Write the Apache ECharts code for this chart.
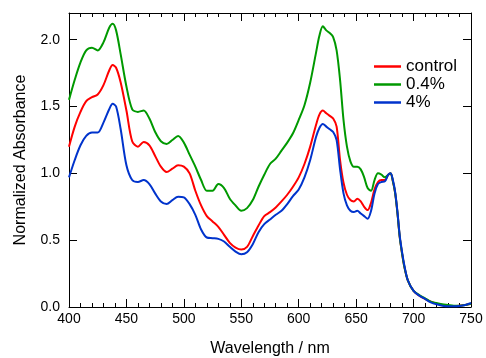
<!DOCTYPE html>
<html>
<head>
<meta charset="utf-8">
<script src="https://cdn.jsdelivr.net/npm/echarts@6/dist/echarts.min.js"></script>
<style>html,body{margin:0;padding:0;background:#fff}#c{width:486px;height:358px}</style>
</head>
<body>
<div id="c"></div>
<script>
const wavelengths = [400,405,410,415,420,425,430,435,438,441,445,
450,455,460,465,470,475,480,485,490,495,500,505,510,515,520,525,530,535,540,545,550,555,560,565,570,575,580,585,590,595,600,605,610,615,
618,621,624,627,630,633,636,639,642,645,648,651,654,657,660,663,666,669,672,675,678,
680,682,684,686,688,690,692,
695,700,705,710,715,720,725,730,735,740,745,750];

const control = [1.20,1.35,1.46,1.54,1.57,1.59,1.66,1.77,1.81,1.79,1.68,
1.47,1.24,1.20,1.235,1.21,1.13,1.05,1.01,1.035,1.06,1.05,1.00,0.87,0.76,0.68,0.64,0.60,0.54,0.48,0.445,0.43,0.45,0.53,0.61,0.68,0.71,0.745,0.79,0.84,0.90,0.97,1.07,1.20,1.36,
1.44,1.47,1.45,1.43,1.41,1.35,1.10,0.93,0.84,0.80,0.79,0.81,0.79,0.75,0.725,0.78,0.88,0.935,0.95,0.95,0.99,
1.00,0.94,0.85,0.70,0.52,0.40,0.30,
0.20,0.12,0.085,0.06,0.04,0.025,0.015,0.01,0.008,0.01,0.015,0.025];

const pct04 = [1.55,1.70,1.83,1.92,1.94,1.92,1.98,2.09,2.12,2.07,1.89,
1.65,1.48,1.46,1.47,1.41,1.31,1.24,1.22,1.25,1.28,1.23,1.14,1.05,0.95,0.87,0.87,0.92,0.89,0.81,0.76,0.72,0.74,0.80,0.90,0.99,1.07,1.11,1.17,1.23,1.30,1.40,1.51,1.68,1.90,
2.03,2.10,2.07,2.05,2.02,1.92,1.70,1.40,1.20,1.09,1.05,1.05,1.03,0.97,0.89,0.87,0.95,1.00,0.99,0.97,0.99,
1.00,0.94,0.85,0.70,0.52,0.40,0.30,
0.20,0.12,0.09,0.065,0.04,0.03,0.02,0.015,0.01,0.01,0.015,0.025];

const pct4 = [0.97,1.10,1.21,1.28,1.305,1.305,1.38,1.48,1.52,1.50,1.33,
1.06,0.95,0.935,0.95,0.92,0.85,0.79,0.77,0.80,0.825,0.82,0.77,0.69,0.58,0.52,0.515,0.51,0.49,0.45,0.415,0.395,0.41,0.47,0.56,0.62,0.655,0.69,0.72,0.77,0.83,0.88,0.97,1.10,1.27,
1.34,1.37,1.35,1.33,1.31,1.25,1.03,0.85,0.76,0.72,0.71,0.72,0.70,0.68,0.66,0.72,0.85,0.92,0.935,0.94,0.99,
1.00,0.95,0.86,0.71,0.53,0.41,0.31,
0.20,0.12,0.085,0.06,0.035,0.02,0.01,0.005,0.005,0.008,0.015,0.03];

const seriesNames = ['control','0.4%','4%'];
const seriesColors = ['#ff0000','#009900','#0033cc'];
const seriesValues = [control, pct04, pct4];

const FONT = '"Liberation Sans", Arial, Helvetica, sans-serif';
const chart = echarts.init(document.getElementById('c'), null, {renderer:'canvas'});

function xAx(pos, showLabels){
  return {
    type:'value', position:pos, min:400, max:750, interval:50,
    name: showLabels ? 'Wavelength / nm' : '',
    nameLocation:'middle', nameGap:34,
    nameTextStyle:{fontFamily:FONT, fontSize:16, color:'#000'},
    axisLine:{show:true, onZero:false, lineStyle:{color:'#000', width:1}},
    axisTick:{show:true, inside:true, length:8, lineStyle:{color:'#000'}},
    minorTick:{show:true, splitNumber:5, length:4, lineStyle:{color:'#000'}},
    splitLine:{show:false}, minorSplitLine:{show:false},
    axisLabel:{show:showLabels, fontFamily:FONT, fontSize:14, color:'#000', margin:5}
  };
}
function yAx(pos, showLabels){
  return {
    type:'value', position:pos, min:0, max:2.2, interval:0.5,
    name: showLabels ? 'Normalized Absorbance' : '',
    nameLocation:'middle', nameGap:40,
    nameTextStyle:{fontFamily:FONT, fontSize:16, color:'#000'},
    axisLine:{show:true, onZero:false, lineStyle:{color:'#000', width:1}},
    axisTick:{show:true, inside:true, length:8, lineStyle:{color:'#000'}},
    splitLine:{show:false},
    axisLabel:{show:showLabels, showMaxLabel:false, fontFamily:FONT, fontSize:14, color:'#000', margin:9,
      formatter:v=>v.toFixed(1)}
  };
}

chart.setOption({
  animation:false,
  backgroundColor:'#fff',
  grid:{left:69, right:15, top:13, bottom:51, outerBoundsMode:'none', containLabel:false},
  legend:{
    orient:'vertical', left:369, top:53, icon:'rect', itemWidth:27, itemHeight:2.5, itemGap:1,
    textStyle:{fontFamily:FONT, fontSize:17, color:'#000', lineHeight:17},
    data:seriesNames
  },
  xAxis:[xAx('bottom', true), xAx('top', false)],
  yAxis:[yAx('left', true), yAx('right', false)],
  series: seriesNames.map((n,i)=>({
    name:n, type:'line', xAxisIndex:0, yAxisIndex:0,
    showSymbol:false, symbol:'none', smooth:0.3,
    color:seriesColors[i],
    lineStyle:{color:seriesColors[i], width:2},
    data: wavelengths.map((w,k)=>[w, seriesValues[i][k]])
  }))
});
</script>
</body>
</html>
